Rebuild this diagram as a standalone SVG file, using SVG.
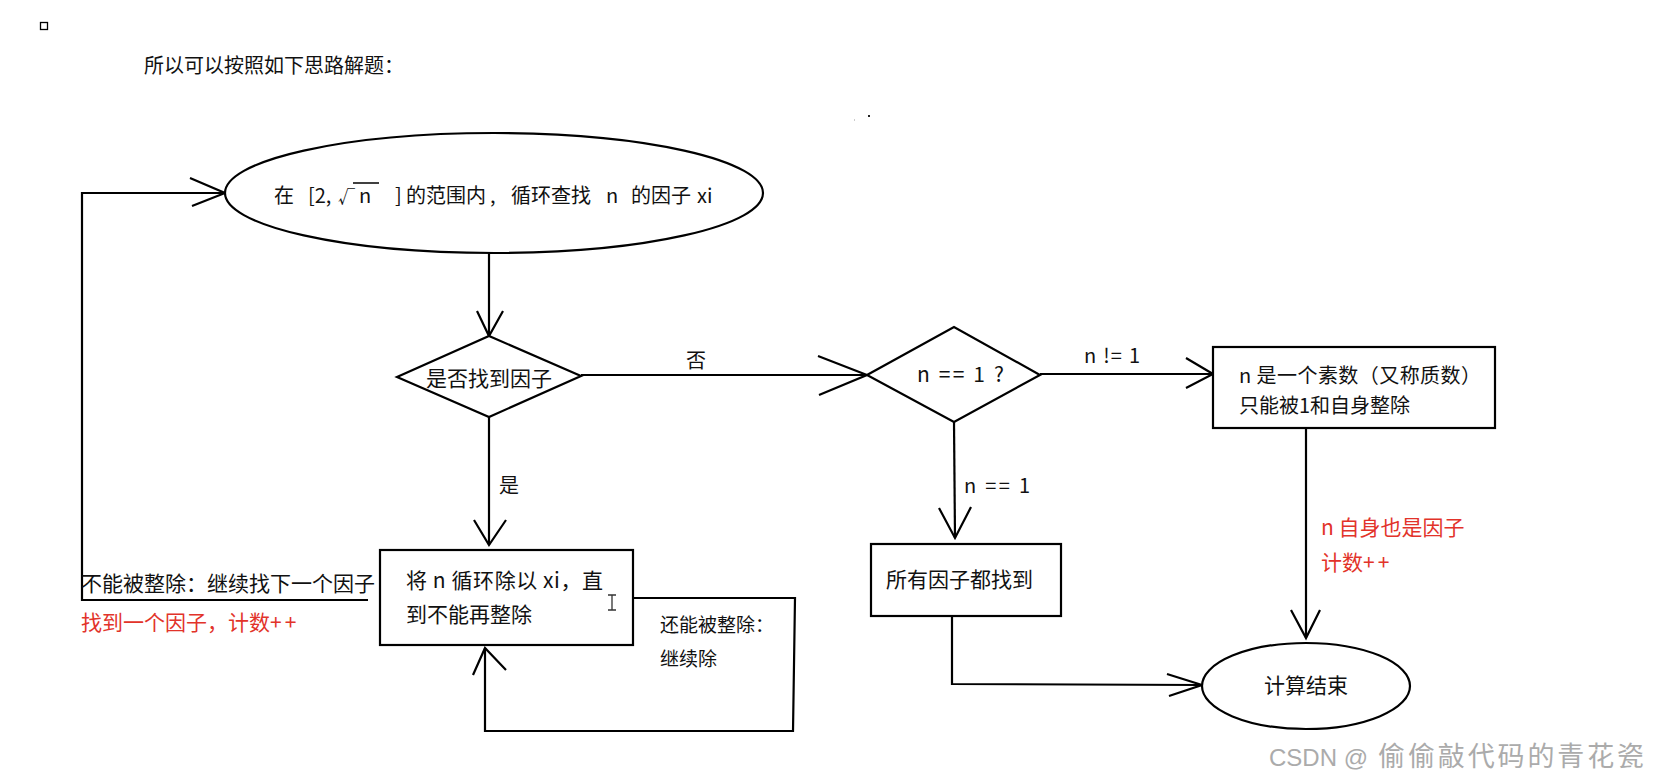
<svg xmlns="http://www.w3.org/2000/svg" width="1662" height="783" viewBox="0 0 1662 783">
<style>
.t{font-family:"Noto Sans CJK SC","Microsoft YaHei",sans-serif;font-size:21px;fill:#111}
.s19{font-size:19px}
.s20{font-size:20px}
.red{fill:#e2332a}
.shape{fill:#fff;stroke:#000;stroke-width:2.2}
.ln{fill:none;stroke:#000;stroke-width:2.2;stroke-linejoin:miter}
.ah{fill:none;stroke:#000;stroke-width:2.2;stroke-linejoin:miter}
.wm{font-family:"Liberation Sans","Noto Sans CJK SC",sans-serif;font-size:24px;fill:#ababab}
</style>
<rect width="1662" height="783" fill="#fff"/>
<rect x="40.5" y="22.5" width="7" height="7" fill="none" stroke="#000" stroke-width="1.3"/>
<rect x="868" y="115" width="2" height="2" fill="#222"/>
<rect x="854" y="119" width="1" height="2" fill="#ccc"/>
<text class="t s20" x="144" y="73" fill="#222">所以可以按照如下思路解题：</text>

<g id="connectors">
  <polyline class="ln" points="368,600 82,600 82,193 225,193"/>
  <polyline class="ah" points="190,178 225,193 192,206"/>
  <line class="ln" x1="489" y1="253" x2="489" y2="336"/>
  <polyline class="ah" points="477,311 489,336 503,311"/>
  <line class="ln" x1="489" y1="417" x2="489" y2="545"/>
  <polyline class="ah" points="474,520 489,545 506,520"/>
  <line class="ln" x1="581" y1="375" x2="867" y2="375"/>
  <polyline class="ah" points="818,356 867,375 819,395"/>
  <line class="ln" x1="1040" y1="374" x2="1213" y2="374"/>
  <polyline class="ah" points="1186,358 1213,374 1186,388"/>
  <line class="ln" x1="954" y1="422" x2="955" y2="538"/>
  <polyline class="ah" points="939,508 955,538 971,507"/>
  <polyline class="ln" points="952,616 952,684 1202,685"/>
  <polyline class="ah" points="1167,674 1202,685 1169,696"/>
  <line class="ln" x1="1306" y1="428" x2="1306" y2="638"/>
  <polyline class="ah" points="1291,610 1306,638 1320,610"/>
  <polyline class="ln" points="633,598 795,598 793,731 485,731 485,648"/>
  <polyline class="ah" points="473,675 485,648 506,670"/>
  <text class="t s20" x="499" y="493">是</text>
  <text class="t s20" x="686" y="368">否</text>
  <text class="t s20" x="1084" y="363" textLength="56">n != 1</text>
  <text class="t s20" x="964" y="493" textLength="66">n == 1</text>
  <text class="t" x="81" y="591">不能被整除：继续找下一个因子</text>
  <text class="t red" x="81" y="630">找到一个因子，计数<tspan letter-spacing="3">++</tspan></text>
  <text class="t s19" x="660" y="632">还能被整除：</text>
  <text class="t s19" x="660" y="666">继续除</text>
  <text class="t red" x="1321" y="535">n 自身也是因子</text>
  <text class="t red" x="1321" y="570">计数<tspan letter-spacing="3">++</tspan></text>
</g>

<g id="start">
  <ellipse class="shape" cx="494" cy="193" rx="269" ry="60"/>
  <text class="t s20" y="203"><tspan x="274">在</tspan><tspan x="308">[2,</tspan><tspan x="338" font-size="17">√</tspan><tspan x="359">n</tspan><tspan x="395">]</tspan><tspan x="406">的范围内</tspan><tspan x="490">,</tspan><tspan x="511">循环查找</tspan><tspan x="606">n</tspan><tspan x="631">的因子</tspan><tspan x="697">xi</tspan></text>
  <line x1="353" y1="183" x2="379" y2="183" stroke="#111" stroke-width="1.6"/>
</g>

<g id="found">
  <polygon class="shape" points="397,377 489,336 581,376 489,417"/>
  <text class="t" x="489" y="386" text-anchor="middle">是否找到因子</text>
</g>

<g id="divide">
  <rect class="shape" x="380" y="550" width="253" height="95"/>
  <text class="t" x="406" y="588" textLength="197">将 n 循环除以 xi，直</text>
  <text class="t" x="406" y="622">到不能再整除</text>
  <path d="M608,595 h8 M612,595 v15 M608,610 h8" stroke="#333" stroke-width="1.3" fill="none"/>
</g>

<g id="check">
  <polygon class="shape" points="867,375 954,327 1040,375 954,422"/>
  <text class="t" x="917" y="382" textLength="87">n == 1 ?</text>
</g>

<g id="prime">
  <rect class="shape" x="1213" y="347" width="282" height="81"/>
  <text class="t s20" x="1239" y="383" textLength="242">n 是一个素数（又称质数）</text>
  <text class="t s20" x="1239" y="413">只能被1和自身整除</text>
</g>

<g id="allfound">
  <rect class="shape" x="871" y="544" width="190" height="72"/>
  <text class="t" x="886" y="587">所有因子都找到</text>
</g>

<g id="end">
  <ellipse class="shape" cx="1306" cy="686" rx="104" ry="43"/>
  <text class="t" x="1306" y="693" text-anchor="middle">计算结束</text>
</g>

<text class="wm" x="1269" y="766">CSDN @<tspan x="1378" font-size="27" textLength="266">偷偷敲代码的青花瓷</tspan></text>
</svg>
